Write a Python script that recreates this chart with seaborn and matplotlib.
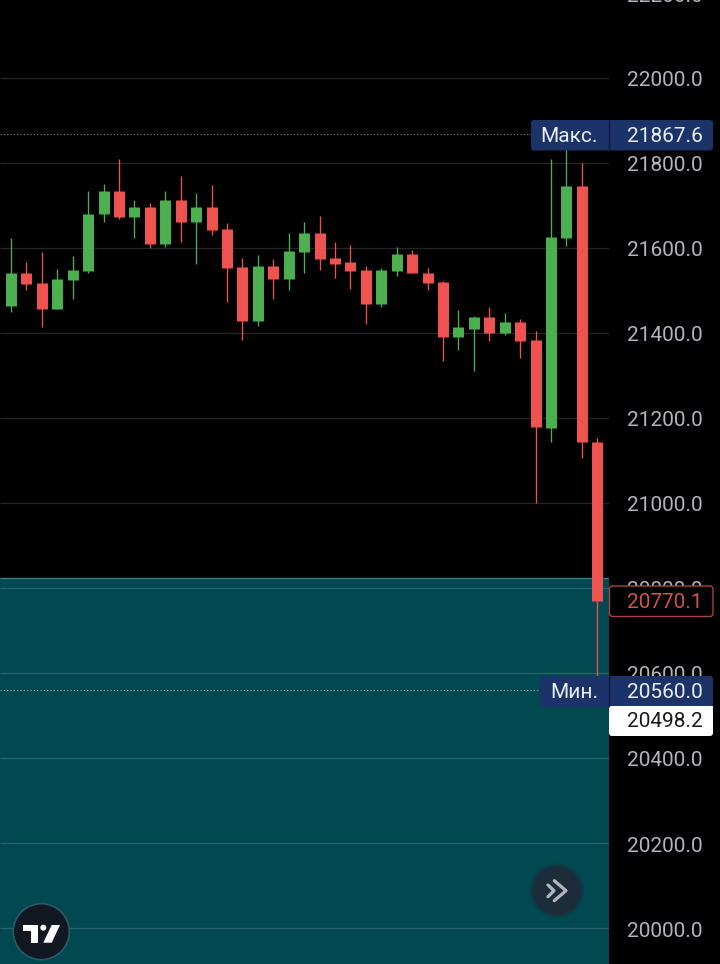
import pandas as pd
import matplotlib.pyplot as plt
import seaborn as sns
from matplotlib.patches import Circle, FancyBboxPatch, Polygon, Rectangle
from matplotlib.transforms import ScaledTranslation

sns.set_theme(style="dark", rc={"lines.solid_capstyle": "butt", "axes.axisbelow": "line"})
plt.rcParams["font.family"] = ["Roboto", "DejaVu Sans"]

# Prices, oldest candle first
opens = [21350, 21464, 21542, 21518, 21457, 21525, 21547, 21679, 21733, 21674, 21697,
         21610, 21714, 21662, 21697, 21645, 21556, 21429, 21558, 21528, 21591, 21636,
         21576, 21566, 21549, 21469, 21547, 21587, 21542, 21521, 21391, 21410, 21438,
         21399, 21427, 21384, 21177, 21624, 21747, 21143.5]
highs = [21470, 21623, 21568, 21591, 21551, 21581, 21735, 21750, 21810, 21714, 21707,
         21733, 21770, 21730, 21749, 21659, 21577, 21584, 21575, 21636, 21660, 21676,
         21613, 21608, 21558, 21554, 21603, 21596, 21554, 21523, 21455, 21439, 21460,
         21448, 21434, 21405, 21810, 21867.6, 21799, 21153]
lows = [21300, 21450, 21500, 21415, 21456, 21481, 21542, 21660, 21669, 21624, 21601,
        21602, 21613, 21563, 21631, 21474, 21384, 21417, 21481, 21500, 21540, 21549,
        21530, 21504, 21420, 21460, 21533, 21540, 21500, 21335, 21361, 21311, 21380,
        21396, 21340, 21000, 21143, 21605, 21106, 20560]
closes = [21466, 21542, 21516, 21457, 21528, 21549, 21681, 21733, 21674, 21697, 21610,
          21714, 21662, 21697, 21643, 21554, 21429, 21558, 21528, 21594, 21636, 21573,
          21563, 21547, 21469, 21549, 21587, 21540, 21518, 21391, 21413, 21438, 21401,
          21427, 21382, 21179, 21627, 21747, 21143.5, 20770.1]

price_ticks = [20000, 20200, 20400, 20600, 20800, 21000, 21200, 21400, 21600, 21800, 22000]
clipped_tick = 22200
max_price = 21867.6
min_price = 20560.0
last_price = 20770.1
crosshair_price = 20498.2
area_top = 20823
max_label = "Макс."
min_label = "Мин."

GREEN = "#4caf50"
RED = "#ef5350"
NAVY = "#1b3368"
TEAL = "#014850"
AXIS_TEXT = "#b2b5be"

idx = list(range(len(opens)))
direction = ["up" if c > o else "down" for o, c in zip(opens, closes)]
candles = pd.DataFrame(dict(idx=idx, open=opens, high=highs, low=lows, close=closes, direction=direction))
bodies = candles.melt(id_vars=["idx", "direction"], value_vars=["open", "close"], value_name="price")
wicks = candles.melt(id_vars=["idx", "direction"], value_vars=["high", "low"], value_name="price")

fig = plt.figure(figsize=(7.2, 9.64), dpi=100, facecolor="black")
ax = fig.add_axes([0, 0, 609 / 720, 1], facecolor="black")

ax.axhspan(19900, area_top, color=TEAL, lw=0, zorder=1)
ax.axhline(area_top, color="#2f8288", lw=1, zorder=1.2)

palette = {"up": GREEN, "down": RED}
sns.lineplot(data=wicks, x="idx", y="price", hue="direction", units="idx", estimator=None,
             palette=palette, legend=False, lw=0.95, ax=ax, zorder=3)
sns.lineplot(data=bodies, x="idx", y="price", hue="direction", units="idx", estimator=None,
             palette=palette, legend=False, lw=7.9, ax=ax, zorder=4)

# one candle is 15.43 px wide, candle 1 has its centre at 11 px
ax.set_xlim(1 - 11 / 15.43, 1 + (609 - 11) / 15.43)
ax.set_ylim(19915.3, 22183.5)
ax.set_xlabel("")
ax.set_ylabel("")
ax.set_xticks([])
ax.set_yticks(price_ticks)
ax.set_yticklabels([f"{p:.1f}" for p in price_ticks])
ax.yaxis.tick_right()
ax.tick_params(axis="y", length=0, pad=13, labelsize=15, labelcolor=AXIS_TEXT)
ax.grid(axis="y", color="white", alpha=0.15, lw=1)
for side in ax.spines.values():
    side.set_visible(False)

# tick labels sit one pixel lower than the gridlines
one_px_down = ScaledTranslation(0, -1 / 100, fig.dpi_scale_trans)
for label in ax.get_yticklabels():
    label.set_transform(label.get_transform() + one_px_down)

ax.text(1 + 18.5 / 609, clipped_tick, f"{clipped_tick:.1f}",
        transform=ax.get_yaxis_transform() + ScaledTranslation(0, -4 / 100, fig.dpi_scale_trans),
        color=AXIS_TEXT, fontsize=15, va="center", clip_on=False)

ax.axhline(max_price, color="#8a8a8a", lw=0.8, ls=(0, (1, 2)), zorder=2)
ax.axhline(min_price, color="#8fb0b0", lw=0.8, ls=(0, (1, 2)), zorder=2)

# overlay in pixel coordinates for the badges and buttons
ui = fig.add_axes([0, 0, 1, 1], facecolor="none", zorder=10)
ui.set_xlim(0, 720)
ui.set_ylim(964, 0)
ui.axis("off")


def badge(x0, y0, x1, y1, face, edge="none"):
    ui.add_patch(FancyBboxPatch((x0 + 3, y0 + 3), x1 - x0 - 6, y1 - y0 - 6,
                                boxstyle="round,pad=3,rounding_size=3", fc=face, ec=edge, lw=1))


badge(531, 120, 713, 150.5, NAVY)
ui.plot([608.5, 608.5], [120, 150.5], color="#0b1a3c", lw=1)
ui.text(569, 136, max_label, color="#e8edf7", fontsize=15, ha="center", va="center")
ui.text(703, 136, f"{max_price:.1f}", color="#e8edf7", fontsize=15, ha="right", va="center")

badge(609.5, 586, 713, 616.5, "black", "#a8443f")
ui.text(703, 602, f"{last_price:.1f}", color="#cf5450", fontsize=15, ha="right", va="center")

badge(540, 676, 713, 707, NAVY)
ui.plot([608.5, 608.5], [676, 707], color="#0b1a3c", lw=1)
ui.text(574, 692, min_label, color="#e8edf7", fontsize=15, ha="center", va="center")
ui.text(703, 692, f"{min_price:.1f}", color="#e8edf7", fontsize=15, ha="right", va="center")

badge(609, 706, 713, 736, "white")
ui.add_patch(Rectangle((609, 706), 104, 6, fc="white", lw=0))
ui.text(703, 721.5, f"{crosshair_price:.1f}", color="#1a1a1a", fontsize=15, ha="right", va="center")

# scroll button
ui.add_patch(Circle((557, 890.5), 27, fc="#0f3844", lw=0, alpha=0.6))
ui.add_patch(Circle((557, 890.5), 24.5, fc="#1d2c3a", lw=0))
ui.plot([554.3, 566, 554.3], [880.7, 890.7, 900.7], color=AXIS_TEXT, lw=2.3, solid_capstyle="round")
ui.plot([548, 554, 548], [885, 890.7, 896.7], color=AXIS_TEXT, lw=2.3, solid_capstyle="round")

# logo
ui.add_patch(Circle((41.3, 931.7), 28, fc="#131722", ec="#2a5c64", lw=1.2))
ui.add_patch(Polygon([(22.7, 925), (37.7, 925), (37.7, 942.7), (30.7, 942.7), (30.7, 931), (22.7, 931)],
                     fc="white", lw=0))
ui.add_patch(Circle((43.3, 927.7), 3, fc="white", lw=0))
ui.add_patch(Polygon([(51.7, 925), (60, 925), (51.7, 942.7), (43.3, 942.7)], fc="white", lw=0))

fig.savefig("out.png", dpi=100, facecolor="black")
